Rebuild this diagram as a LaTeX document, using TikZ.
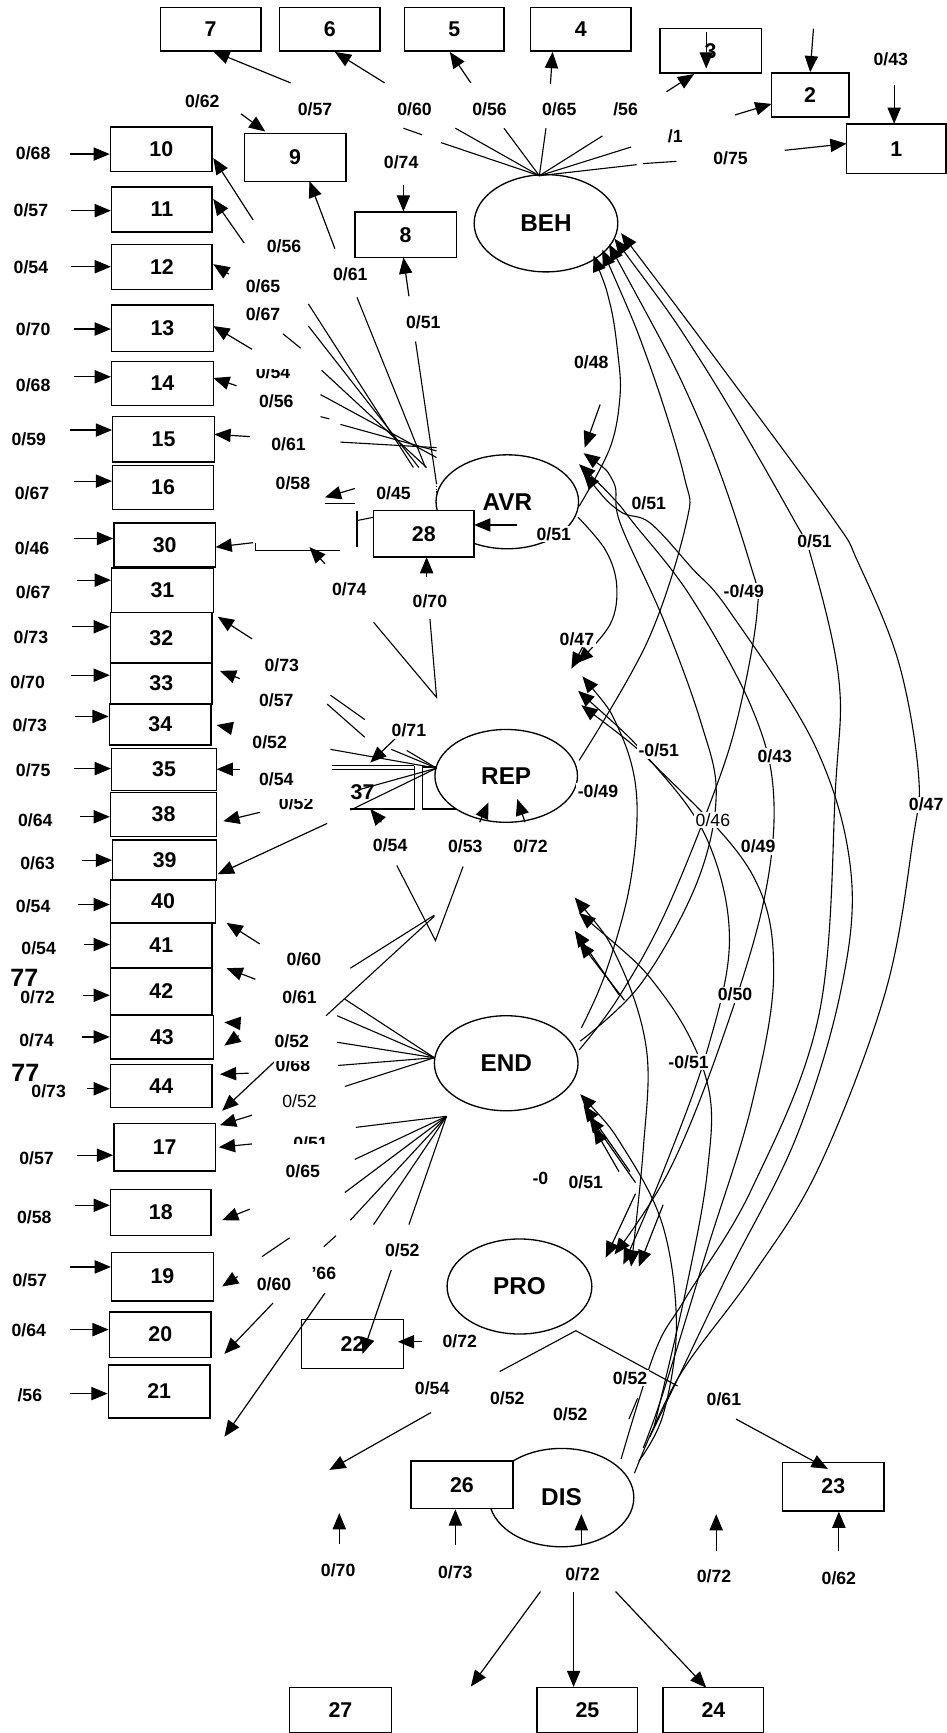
\documentclass[tikz,border=0pt]{standalone}
\usepackage{fontspec}
\setmainfont{Liberation Sans}
\usetikzlibrary{arrows.meta,shapes.geometric}
\tikzset{
 box/.style={draw,line width=1pt,fill=white,inner sep=0pt,font=\fontsize{14.5}{15}\selectfont\bfseries},
 fac/.style={draw,ellipse,line width=0.9pt,fill=white,inner sep=0pt,font=\fontsize{16.5}{17}\selectfont\bfseries},
 lab/.style={font=\fontsize{12}{12}\selectfont\bfseries,inner sep=1pt},
 labw/.style={lab,fill=white},
 labn/.style={font=\fontsize{12}{12}\selectfont,inner sep=1pt,fill=white},
 big/.style={font=\fontsize{17}{17}\selectfont\bfseries,inner sep=0pt},
 ln/.style={line width=0.75pt},
 tip/.tip={Triangle[length=11pt,width=9pt]},
 arr/.style={line width=0.8pt,-tip},
 cv/.style={line width=0.75pt},
 cvs/.style={line width=0.75pt,tip-},
 cvb/.style={line width=0.75pt,tip-tip},
}
\newcommand\mybox[6]{\node[box,minimum width=#4*0.75pt,minimum height=#5*0.75pt] (#1) at (#2,#3) {#6};}
\newcommand\myfac[6]{\node[fac,minimum width=#4*0.75pt,minimum height=#5*0.75pt] (#1) at (#2,#3) {#6};}
\begin{document}
\begin{tikzpicture}[x=0.75pt,y=-0.75pt]
\useasboundingbox (0,0) rectangle (856,1568);
% box hidden behind REP
\draw[ln] (382,694) rectangle (470,732);
% factors
\myfac{BEH}{494}{202}{130}{88}{BEH}
\myfac{AVR}{459}{454}{129}{85}{AVR}
\myfac{REP}{458}{702}{129}{84}{REP}
\myfac{END}{458}{962}{130}{86}{END}
\myfac{PRO}{470}{1164}{131}{86}{PRO}
\myfac{DIS}{508}{1355}{131}{89}{DIS}
% boxes
\mybox{b7}{190.5}{26.5}{91}{39}{7}
\mybox{b6}{298.5}{26.5}{91}{39}{6}
\mybox{b5}{411}{26.5}{90}{39}{5}
\mybox{b4}{525.5}{26.5}{91}{39}{4}
\mybox{b3}{643}{46}{92}{40}{3}
\mybox{b2}{733}{86}{70}{40}{2}
\mybox{b1}{811}{134.5}{90}{45}{1}
\mybox{b10}{146}{135}{92}{40}{10}
\mybox{b9}{267}{142.5}{92}{43}{9}
\mybox{b8}{367}{212.5}{92}{41}{8}
\mybox{b11}{146.5}{189.5}{91}{41}{11}
\mybox{b12}{146.5}{241.5}{91}{41}{12}
\mybox{b13}{147}{297}{92}{42}{13}
\mybox{b14}{147}{347}{92}{40}{14}
\mybox{b15}{148}{397.5}{92}{41}{15}
\mybox{b16}{147.5}{441}{91}{40}{16}
\mybox{b30}{149}{493}{92}{40}{30}
\mybox{b31}{147}{534}{92}{40}{31}
\mybox{b32}{146}{577}{92}{46}{32}
\mybox{b33}{146}{618.5}{92}{37}{33}
\mybox{b34}{145}{655.5}{92}{37}{34}
\mybox{b35}{148.5}{696}{95}{38}{35}
\mybox{b38}{148}{737}{96}{40}{38}
\mybox{b39}{149}{778}{94}{36}{39}
\mybox{b40}{147.5}{815.5}{95}{39}{40}
\mybox{b41}{146}{855.5}{92}{41}{41}
\mybox{b42}{146}{897}{92}{42}{42}
\mybox{b43}{146.5}{938.5}{93}{39}{43}
\mybox{b44}{146}{982.5}{92}{39}{44}
\mybox{b17}{149}{1038}{92}{43}{17}
\mybox{b18}{145.5}{1097}{91}{42}{18}
\mybox{b19}{147}{1155}{92}{44}{19}
\mybox{b20}{145}{1207.5}{92}{41}{20}
\mybox{b21}{144}{1259}{92}{48}{21}
\mybox{b28}{383.5}{483}{91}{42}{28}
\mybox{b22}{319}{1216}{92}{44}{22}
\mybox{b26}{418}{1343.5}{92}{43}{26}
\mybox{b23}{754}{1345}{92}{44}{23}
\mybox{b27}{308}{1547.5}{92}{41}{27}
\mybox{b25}{531.5}{1547.5}{91}{41}{25}
\mybox{b24}{645.5}{1547.5}{91}{41}{24}
% box 37 (open)
\draw[ln] (300,693) -- (375,693);
\draw[ln] (300,696) -- (375,696);
\draw[ln] (375,693) -- (375,732) -- (317,732);
\node[box,draw=none,fill=none] (b37) at (328,717) {37};
% ---------- right-side covariances ----------
\draw[cvs] plot[smooth,tension=0.6] coordinates {(537,231) (552,275) (559,320) (561,358) (552,405) (524,458)};
\draw[cvs] plot[smooth,tension=0.6] coordinates {(545,226) (587,328) (619,431) (621,473) (586,580) (524,688)};
\draw[cvs] plot[smooth,tension=0.6] coordinates {(551,221) (632,379) (679,511) (685,554) (668,647) (645,720) (600,830) (558,905) (524,950)};
\draw[cvs] plot[smooth,tension=0.6] coordinates {(556,216) (635,328) (717,468) (735,508) (759,615) (756,712) (741,918) (680,1076) (620,1175) (593,1222) (562,1320)};
\draw[cvs] plot[smooth,tension=0.6] coordinates {(562,211) (650,328) (753,468) (776,508) (813,599) (831,700) (826,760) (801,898) (741,1056) (680,1155) (614,1246) (574,1333)};
\draw[cv,-tip] plot[smooth,tension=0.6] coordinates {(523,468) (548,498) (558,530) (552,565) (522,600)};
\draw[cvs] plot[smooth,tension=0.6] coordinates {(528,410) (555,436) (561,473) (600,560) (634,653) (648,720) (630,800) (580,890) (525,942)};
\draw[cvb] plot[smooth,tension=0.6] coordinates {(524,420) (556,452) (573,473) (625,540) (680,640) (700,720) (690,820) (650,950) (605,1060) (556,1135)};
\draw[cvs] plot[smooth,tension=0.6] coordinates {(528,428) (560,462) (588,473) (626,514) (660,553) (738,676) (770,790) (760,900) (720,1030) (660,1150) (612,1250) (588,1300)};
\draw[cvs] plot[smooth,tension=0.6] coordinates {(527,612) (560,660) (576,720) (570,800) (548,880) (526,930)};
\draw[cvb] plot[smooth,tension=0.6] coordinates {(523,625) (590,690) (640,760) (660,850) (640,950) (600,1060) (564,1144)};
\draw[cvs] plot[smooth,tension=0.6] coordinates {(526,638) (600,700) (680,790) (700,880) (680,1000) (640,1130) (600,1260) (582,1310)};
\draw[cvb] plot[smooth,tension=0.6] coordinates {(520,812) (560,870) (585,950) (582,1040) (571,1146)};
\draw[cvs] plot[smooth,tension=0.6] coordinates {(524,826) (600,900) (640,980) (640,1060) (620,1170) (592,1290)};
\draw[cvs] plot[smooth,tension=0.6] coordinates {(525,990) (565,1040) (600,1110) (612,1200) (600,1280) (578,1322)};
\draw[arr] (560,900) -- (520,842);
\draw[arr] (565,905) -- (524,852);
\draw[arr] (570,1060) -- (528,1000);
\draw[arr] (575,1070) -- (533,1010);
\draw[arr] (560,1060) -- (537,1020);
\draw[arr] (575,1080) -- (548,1138);
\draw[arr] (600,1090) -- (578,1146);
\draw[arr] (543,366) -- (529,405);
\draw[arr] (532,576) -- (517,605);
% ---------- BEH loadings ----------
\draw[ln] (488,159) -- (399,129);
\draw[ln] (365,116) -- (382,122);
\draw[ln] (488,159) -- (412,116);
\draw[ln] (488,159) -- (456,116);
\draw[ln] (488,159) -- (494,116);
\draw[ln] (488,159) -- (545,123);
\draw[ln] (488,159) -- (571,133);
\draw[ln] (488,159) -- (576,149);
\draw[ln] (582,148) -- (612,146);
\draw[arr] (263,75) -- (193,46.5);
\draw[arr] (348,75) -- (303,47);
\draw[arr] (426,75) -- (407,47);
\draw[arr] (498,76) -- (500,47);
\draw[arr] (603,83) -- (628,67);
\draw[arr] (665,104) -- (698,94);
\draw[arr] (710,136) -- (766,130);
\draw[arr] (639,29) -- (639,62);
\draw[arr] (736,26) -- (b2.north);
\draw[arr] (809,77) -- (809,112);
\draw[arr] (218,103) -- (240,119);
\draw[arr] (365,167) -- (b8.north -| 365,0);
% ---------- AVR loadings ----------
\draw[ln] (279,275) -- (374,423);
\draw[ln] (279,295) -- (379,423);
\draw[ln] (291,335) -- (386,423);
\draw[ln] (290,357) -- (395,414);
\draw[ln] (308,384) -- (395,408);
\draw[ln] (308,400) -- (395,405);
\draw[ln] (323,269) -- (385,423);
\draw[ln] (376,309) -- (395,438);
\draw[ln,densely dotted] (395,440) -- (395,462);
\draw[ln] (256,302) -- (272,315);
\draw[ln] (290,377) -- (298,379);
\draw[arr] (229,199) -- (193,143);
\draw[arr] (221,220) -- (193,180);
\draw[arr] (207,248) -- (193,239);
\draw[arr] (228,316) -- (193,295);
\draw[arr] (214,349) -- (193,342);
\draw[arr] (226,395) -- (194,393);
\draw[arr] (303,225) -- (280,164);
\draw[arr] (370,268) -- (365,233);
\draw[arr] (321,442) -- (294,450);
\draw[ln] (294,455.5) -- (321,455.5);
\draw[ln] (323,462) -- (323,495);
\draw[ln] (323,471) -- (338,468);
\draw[arr] (229,491) -- (195,495);
\draw[ln] (231,491) -- (231,498) -- (308,498);
\draw[arr] (294,510) -- (280,495);
\draw[arr] (386,522) -- (386,504);
\draw[arr] (468,475) -- (429,475);
% ---------- REP loadings ----------
\draw[ln] (338,563) -- (395,631) -- (389,560);
\draw[ln] (354,678) -- (395,695);
\draw[ln] (368,679) -- (395,695);
\draw[ln] (299,678) -- (395,695);
\draw[ln] (317,733) -- (395,695);
\draw[ln] (323,715) -- (395,695);
\draw[ln] (296,637) -- (330,667);
\draw[ln] (299,629) -- (330,651);
\draw[arr] (359,667) -- (335,690);
\draw[arr] (345,744) -- (335,732);
\draw[arr] (228,578) -- (197,558);
\draw[arr] (217,614) -- (199,607);
\draw[arr] (210,659) -- (196,656);
\draw[arr] (217,696) -- (196,696);
\draw[arr] (235,735) -- (202,743);
\draw[arr] (296,745) -- (197,791);
\draw[arr] (434,744) -- (442,726);
\draw[arr] (475,744) -- (468,723);
\draw[ln] (359,783) -- (394,851) -- (419,784);
\draw[ln] (393,828) -- (317,876);
\draw[ln] (393,829) -- (295,919);
% ---------- END loadings ----------
\draw[ln] (393,957) -- (312,904);
\draw[ln] (393,957) -- (305,919);
\draw[ln] (393,957) -- (305,943);
\draw[ln] (393,957) -- (306,964);
\draw[ln] (393,957) -- (312,983);
\draw[ln] (404,1010) -- (322,1020);
\draw[ln] (404,1010) -- (321,1049);
\draw[ln] (404,1010) -- (312,1079);
\draw[ln] (404,1010) -- (317,1104);
\draw[ln] (404,1010) -- (338,1108);
\draw[ln] (404,1010) -- (370,1108);
\draw[ln] (262,1120) -- (237,1137);
\draw[ln] (304,1118) -- (293,1128);
\draw[arr] (235,854) -- (205,835);
\draw[arr] (231,886) -- (205,876);
\draw[arr] (218,926) -- (203,925);
\draw[arr] (216,937) -- (203,946);
\draw[arr] (225,971) -- (199,972);
\draw[arr] (249,960) -- (201,1005);
\draw[arr] (228,1009) -- (199,1018);
\draw[arr] (228,1035) -- (198,1038);
\draw[arr] (226,1094) -- (201,1104);
\draw[arr] (215,1155) -- (201,1164);
\draw[arr] (247,1179) -- (203,1225);
\draw[arr] (294,1170) -- (203,1300);
\draw[arr] (354,1149) -- (328,1225);
\draw[arr] (382,1214) -- (360,1214);
% ---------- PRO / DIS ----------
\draw[ln] (452,1241) -- (521,1204) -- (613,1254);
\draw[arr] (390,1278) -- (298,1330);
\draw[arr] (666,1284) -- (749,1329);
\draw[ln] (569,1284) -- (577,1265);
\draw[arr] (307,1397) -- (307,1369);
\draw[arr] (412,1398) -- (b26.south -| 412,0);
\draw[arr] (526,1397) -- (526,1370);
\draw[arr] (648,1403) -- (648,1370);
\draw[arr] (759,1403) -- (b23.south -| 759,0);
\draw[arr] (489,1440) -- (426,1526);
\draw[arr] (519,1440) -- (b25.north -| 519,0);
\draw[arr] (557,1440) -- (639,1527);
% ---------- error arrows (left) ----------
\draw[arr] (63,139.4) -- (b10.west |- 0,139.4);
\draw[arr] (64,190.6) -- (b11.west |- 0,190.6);
\draw[arr] (64,241.3) -- (b12.west |- 0,241.3);
\draw[arr] (67,297.7) -- (b13.west |- 0,297.7);
\draw[arr] (67,340.9) -- (b14.west |- 0,340.9);
\draw[arr] (63,389.1) -- (b15.west |- 0,389.1);
\draw[arr] (67,435.3) -- (b16.west |- 0,435.3);
\draw[arr] (67,487.2) -- (b30.west |- 0,487.2);
\draw[arr] (70,524.9) -- (b31.west |- 0,524.9);
\draw[arr] (65,567.1) -- (b32.west |- 0,567.1);
\draw[arr] (64,610.9) -- (b33.west |- 0,610.9);
\draw[arr] (68,648.2) -- (b34.west |- 0,648.2);
\draw[arr] (67,695.4) -- (b35.west |- 0,695.4);
\draw[arr] (72,739) -- (b38.west |- 0,739);
\draw[arr] (74,778.3) -- (b39.west |- 0,778.3);
\draw[arr] (71,818.4) -- (b40.west |- 0,818.4);
\draw[arr] (76,854.6) -- (b41.west |- 0,854.6);
\draw[arr] (75,900.5) -- (b42.west |- 0,900.5);
\draw[arr] (74,938.2) -- (b43.west |- 0,938.2);
\draw[arr] (79,985.1) -- (b44.west |- 0,985.1);
\draw[arr] (70,1045.2) -- (b17.west |- 0,1045.2);
\draw[arr] (68,1090.5) -- (b18.west |- 0,1090.5);
\draw[arr] (63,1146.3) -- (b19.west |- 0,1146.3);
\draw[arr] (63,1203) -- (b20.west |- 0,1203);
\draw[arr] (63,1260.9) -- (b21.west |- 0,1260.9);
% ---------- labels ----------
\node[lab] (e10) at (30,139) {0/68};
\node[lab] (e11) at (28,190) {0/57};
\node[lab] (e12) at (28,242) {0/54};
\node[lab] (e13) at (30,298) {0/70};
\node[lab] (e14) at (30,349) {0/68};
\node[lab] (e15) at (26,397) {0/59};
\node[lab] (e16) at (29,446) {0/67};
\node[lab] (e30) at (29,496) {0/46};
\node[lab] (e31) at (30,536) {0/67};
\node[lab] (e32) at (28,577) {0/73};
\node[lab] (e33) at (25,617) {0/70};
\node[lab] (e34) at (27,656) {0/73};
\node[lab] (e35) at (30,697) {0/75};
\node[lab] (e38) at (32,742) {0/64};
\node[lab] (e39) at (34,781) {0/63};
\node[lab] (e40) at (30,820) {0/54};
\node[lab] (e41) at (35,858) {0/54};
\node[big] (s77a) at (22,885) {77};
\node[lab] (e42) at (34,902) {0/72};
\node[lab] (e43) at (33,941) {0/74};
\node[big] (s77b) at (23,971) {77};
\node[lab] (e44) at (44,987) {0/73};
\node[lab] (e17) at (33,1048) {0/57};
\node[lab] (e18) at (31,1101) {0/58};
\node[lab] (e19) at (27,1158) {0/57};
\node[lab] (e20) at (26,1204) {0/64};
\node[lab] (e21) at (27,1262) {/56};
% BEH
\node[labw] (t1) at (183,92) {0/62};
\node[labw] (t2) at (285,99) {0/57};
\node[labw] (t3) at (375,99) {0/60};
\node[labw] (t4) at (443,99) {0/56};
\node[labw] (t5) at (506,99) {0/65};
\node[labw] (t6) at (566,99) {/56};
\node[labw] (t7) at (611,123) {/1};
\node[labw] (t8) at (661,143) {0/75};
\node[labw] (t9) at (806,54) {0/43};
\node[labw] (t10) at (363,147) {0/74};
% AVR
\node[labw] (a1) at (257,223) {0/56};
\node[labw] (a2) at (238,259) {0/65};
\node[labw] (a3) at (238,284) {0/67};
\node[labw] (a4) at (247,337) {0/54};
\node[labw] (a5) at (250,363) {0/56};
\node[labw] (a6) at (261,402) {0/61};
\node[labw] (a7) at (265,437) {0/58};
\node[labw] (a8) at (356,446) {0/45};
\node[labw] (a9) at (317,248) {0/61};
\node[labw] (a10) at (383,292) {0/51};
\node[labw] (a11) at (316,533) {0/74};
\node[labw] (a12) at (389,544) {0/70};
\node[labw] (a13) at (501,483) {0/51};
% REP
\node[labw] (p1) at (255,602) {0/73};
\node[labw] (p2) at (250,634) {0/57};
\node[labw] (p3) at (244,672) {0/52};
\node[labw] (p4) at (250,705) {0/54};
\node[labw] (p5) at (268,727) {0/52};
\node[labw] (p6) at (370,661) {0/71};
\node[labw] (p7) at (353,765) {0/54};
\node[labw] (p8) at (421,766) {0/53};
\node[labw] (p9) at (480,766) {0/72};
% END
\node[labw] (n1) at (275,868) {0/60};
\node[labw] (n2) at (271,902) {0/61};
\node[labw] (n3) at (264,942) {0/52};
\node[labw] (n4) at (265,964) {0/68};
\node[labn] (n5) at (271,996) {0/52};
\node[labw] (n6) at (281,1034) {0/51};
\node[labw] (n7) at (274,1060) {0/65};
% PRO
\node[labw] (q1) at (248,1162) {0/60};
\node[labw] (q2) at (293,1152) {'66};
\node[labw] (q3) at (364,1131) {0/52};
\node[labw] (q4) at (416,1214) {0/72};
\node[labw] (q5) at (391,1256) {0/54};
\node[labw] (q6) at (459,1265) {0/52};
\node[labw] (q7) at (516,1280) {0/52};
\node[labw] (q8) at (570,1247) {0/52};
\node[labw] (q9) at (655,1266) {0/61};
% DIS
\node[labw] (d1) at (306,1421) {0/70};
\node[labw] (d2) at (412,1423) {0/73};
\node[labw] (d3) at (527,1424) {0/72};
\node[labw] (d4) at (646,1426) {0/72};
\node[labw] (d5) at (759,1428) {0/62};
% right covariances
\node[labw] (c1) at (535,328) {0/48};
\node[labw] (c2) at (587,455) {0/51};
\node[labw] (c3) at (737,490) {0/51};
\node[labw] (c4) at (673,535) {-0/49};
\node[labw] (c5) at (522,578) {0/47};
\node[labw] (c6) at (596,679) {-0/51};
\node[labw] (c7) at (701,684) {0/43};
\node[labw] (c8) at (541,716) {-0/49};
\node[labn] (c9) at (645,742) {0/46};
\node[labw] (c10) at (686,766) {0/49};
\node[labw] (c11) at (838,728) {0/47};
\node[labw] (c12) at (665,900) {0/50};
\node[labw] (c13) at (623,961) {-0/51};
\node[labw] (c14) at (489,1066) {-0};
\node[labw] (c15) at (530,1070) {0/51};
% partly hidden labels (as in the reference)
\fill[white] (228,329) rectangle (266,333.5);
\fill[white] (250,719) rectangle (287,723);
\fill[white] (246,956) rectangle (284,960);
\fill[white] (262,1035) rectangle (300,1042);
\end{tikzpicture}
\end{document}
